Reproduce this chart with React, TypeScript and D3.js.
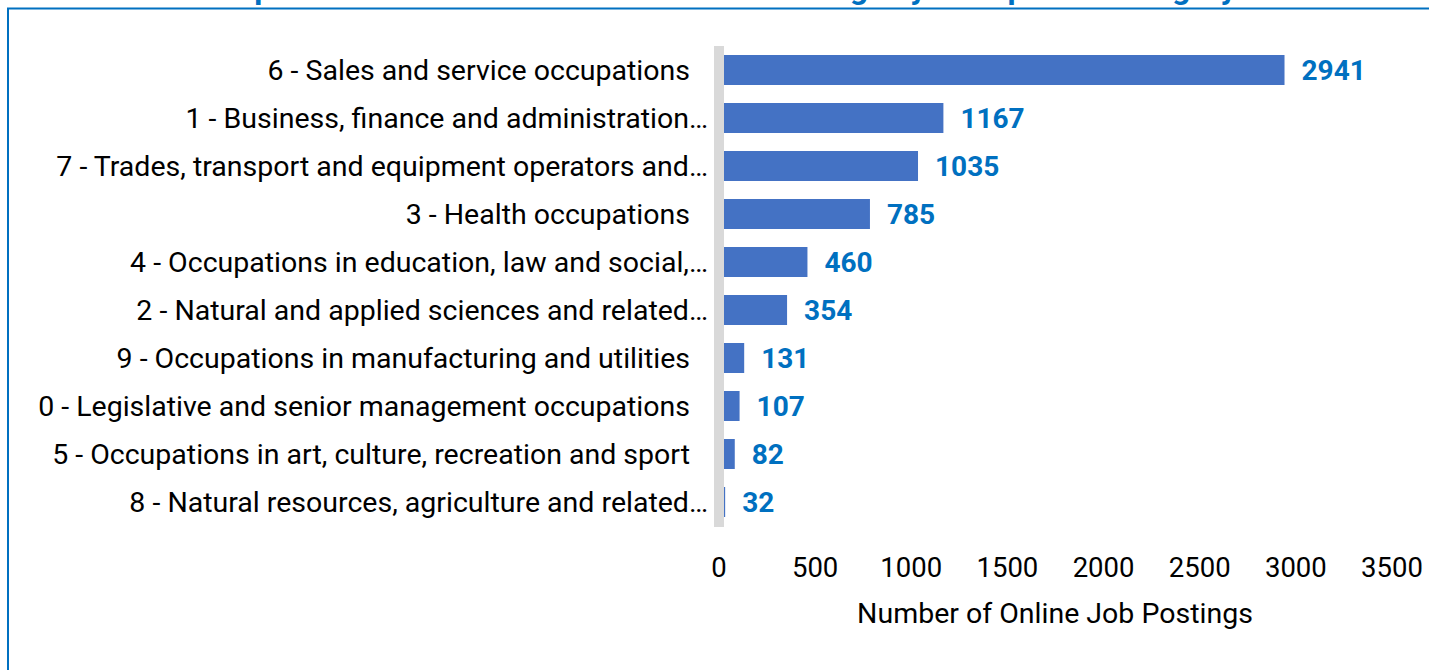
import React from "react";
import * as d3 from "d3";

const categories: string[] = [
  "6 - Sales and service occupations",
  "1 - Business, finance and administration…",
  "7 - Trades, transport and equipment operators and…",
  "3 - Health occupations",
  "4 - Occupations in education, law and social,…",
  "2 - Natural and applied sciences and related…",
  "9 - Occupations in manufacturing and utilities",
  "0 - Legislative and senior management occupations",
  "5 - Occupations in art, culture, recreation and sport",
  "8 - Natural resources, agriculture and related…",
];
const postings: number[] = [2941, 1167, 1035, 785, 460, 354, 131, 107, 82, 32];
const xTicks: number[] = [0, 500, 1000, 1500, 2000, 2500, 3000, 3500];
const titleText = "Snapshot of the Number of Online Job Postings by Occupation Category";
const xAxisTitle = "Number of Online Job Postings";

const W = 1429;
const H = 670;
const FONT = "Roboto, 'Noto Sans', sans-serif";
const BLUE = "#0070C0";
const BAR = "#4472C4";

export default function App() {
  const x = d3.scaleLinear().domain([0, 3500]).range([719, 1392]);
  const y = d3
    .scaleBand<string>()
    .domain(categories)
    .range([46, 526])
    .paddingInner(0.375)
    .paddingOuter(0.1875);

  return (
    <svg
      width={W}
      height={H}
      style={{ position: "absolute", left: 0, top: 0, background: "#fff" }}
      fontFamily={FONT}
    >
      <text
        x={718}
        y={-1.5}
        textAnchor="middle"
        fontSize={32}
        fontWeight="bold"
        fill={BLUE}
      >
        {titleText}
      </text>
      <rect x={8} y={8.5} width={1500} height={700} fill="none" stroke={BLUE} strokeWidth={2} />

      {categories.map((c, i) => {
        const yc = (y(c) as number) + y.bandwidth() / 2;
        const truncated = c.endsWith("…");
        return (
          <g key={c}>
            <rect
              x={x(0)}
              y={y(c)}
              width={x(postings[i]) - x(0)}
              height={y.bandwidth()}
              fill={BAR}
            />
            <text
              x={truncated ? 708 : 690}
              y={yc + 10}
              textAnchor="end"
              fontSize={28.5}
              fill="#000"
            >
              {c}
            </text>
            <text
              x={x(postings[i]) + 17}
              y={yc + 10}
              fontSize={28}
              fontWeight="bold"
              fill={BLUE}
            >
              {postings[i]}
            </text>
          </g>
        );
      })}

      <rect x={714} y={46} width={10} height={481} fill="#D9D9D9" />

      {xTicks.map((t) => (
        <text key={t} x={x(t)} y={577} textAnchor="middle" fontSize={27.5} fill="#000">
          {t}
        </text>
      ))}
      <text x={1055} y={623} textAnchor="middle" fontSize={28.5} fill="#000">
        {xAxisTitle}
      </text>
    </svg>
  );
}
